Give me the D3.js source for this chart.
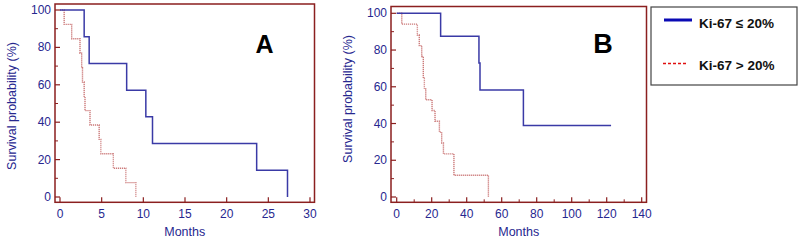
<!DOCTYPE html>
<html lang="en">
<head>
<meta charset="UTF-8">
<title>Kaplan-Meier Ki-67</title>
<script src="https://d3js.org/d3.v7.min.js"></script>
<style>
    body { margin: 0; background: #fff; }
    svg { display: block; font-family: Arial, "Liberation Sans", sans-serif; }
    .tick-label { font-size: 12px; fill: #27278f; }
    .axis-title { font-size: 12.5px; fill: #27278f; }
    .panel-letter { font-weight: bold; fill: #000; }
    .legend-text { font-size: 13.5px; font-weight: bold; fill: #111; }
</style>
</head>
<body>
<script>
    // Panel A (months)
    var aLowTimes = [2.9, 3.5, 8.0, 10.3, 11.1, 23.6, 27.3];
    var aLowSurv = [85.7, 71.4, 57.1, 42.9, 28.6, 14.3, 0];
    var aHighTimes = [0.5, 1.4, 2.4, 2.6, 2.7, 2.9, 3.0, 3.6, 4.7, 4.9, 6.4, 7.9, 9.1];
    var aHighSurv = [92.3, 84.6, 76.9, 69.2, 61.5, 53.8, 46.2, 38.5, 30.8, 23.1, 15.4, 7.7, 0];
    var aXTicks = [0, 5, 10, 15, 20, 25, 30];

    // Panel B (months)
    var bLowTimes = [25.1, 47.0, 47.6, 72.4, 122.5];
    var bLowSurv = [87.5, 72.9, 58.3, 38.9, 38.9];
    var bHighTimes = [2.9, 11.8, 12.9, 14.3, 15.2, 15.8, 16.6, 20.2, 21.9, 24.4, 25.7, 26.7, 32.7, 52.4];
    var bHighSurv = [94.1, 88.2, 82.4, 76.5, 64.7, 58.8, 52.9, 47.1, 41.2, 35.3, 29.4, 23.5, 11.8, 0];
    var bXTicks = [0, 20, 40, 60, 80, 100, 120, 140];

    var yTicks = [0, 20, 40, 60, 80, 100];
    var legendLabels = ["Ki-67 \u2264 20%", "Ki-67 > 20%"];

    var frameColor = "#8b1f1f";
    var blue = "#3a3aa6";
    var red = "#cc7a7a";

    var svg = d3.select("body").append("svg")
        .attr("width", 800)
        .attr("height", 242);

    function drawPanel(p) {
        var g = svg.append("g");
        var x = d3.scaleLinear().domain([0, p.xMax]).range(p.xRange);
        var y = d3.scaleLinear().domain([0, 100]).range(p.yRange);

        // frame
        g.append("rect")
            .attr("x", p.frame[0]).attr("y", p.frame[1])
            .attr("width", p.frame[2] - p.frame[0])
            .attr("height", p.frame[3] - p.frame[1])
            .attr("fill", "none")
            .attr("stroke", frameColor)
            .attr("stroke-width", 1.5);

        // y ticks (inward)
        var yMinor = d3.range(10, 100, 20);
        g.selectAll(".ymaj").data(yTicks).enter().append("line")
            .attr("x1", p.frame[0]).attr("x2", p.frame[0] + 5)
            .attr("y1", d => y(d)).attr("y2", d => y(d))
            .attr("stroke", frameColor).attr("stroke-width", 1.2);
        g.selectAll(".ymin").data(yMinor).enter().append("line")
            .attr("x1", p.frame[0]).attr("x2", p.frame[0] + 3)
            .attr("y1", d => y(d)).attr("y2", d => y(d))
            .attr("stroke", frameColor).attr("stroke-width", 1);
        g.selectAll(".ylab").data(yTicks).enter().append("text")
            .attr("class", "tick-label")
            .attr("x", p.frame[0] - 4)
            .attr("y", d => y(d) + 4)
            .attr("text-anchor", "end")
            .text(d => d);

        // x ticks (inward)
        g.selectAll(".xmaj").data(p.xTicks).enter().append("line")
            .attr("x1", d => x(d)).attr("x2", d => x(d))
            .attr("y1", p.frame[3]).attr("y2", p.frame[3] - 5)
            .attr("stroke", frameColor).attr("stroke-width", 1.2);
        if (p.xMinor) {
            g.selectAll(".xmin").data(p.xMinor).enter().append("line")
                .attr("x1", d => x(d)).attr("x2", d => x(d))
                .attr("y1", p.frame[3]).attr("y2", p.frame[3] - 3)
                .attr("stroke", frameColor).attr("stroke-width", 1);
        }
        g.selectAll(".xlab").data(p.xTicks).enter().append("text")
            .attr("class", "tick-label")
            .attr("x", d => x(d))
            .attr("y", p.frame[3] + 16)
            .attr("text-anchor", "middle")
            .text(d => d);

        // titles
        g.append("text").attr("class", "axis-title")
            .attr("x", (p.frame[0] + p.frame[2]) / 2)
            .attr("y", 236)
            .attr("text-anchor", "middle")
            .text("Months");
        g.append("text").attr("class", "axis-title")
            .attr("transform", "translate(" + (p.frame[0] - 39) + "," + p.titleY + ") rotate(-90)")
            .attr("text-anchor", "middle")
            .text("Survival probability (%)");

        g.append("text").attr("class", "panel-letter")
            .attr("x", p.letterX).attr("y", p.letterY)
            .attr("text-anchor", "middle")
            .style("font-size", p.letterSize + "px")
            .text(p.letter);

        var line = d3.line()
            .x(d => x(d[0]))
            .y(d => y(d[1]))
            .curve(d3.curveStepAfter);

        var highPts = [[0, 100]].concat(p.highT.map((t, i) => [t, p.highS[i]]));
        var lowPts = [[0, 100]].concat(p.lowT.map((t, i) => [t, p.lowS[i]]));

        g.append("path").datum(highPts)
            .attr("d", line)
            .attr("fill", "none")
            .attr("stroke", red)
            .attr("stroke-width", 1.4)
            .attr("stroke-dasharray", "1.2,0.8");
        g.append("path").datum(lowPts)
            .attr("d", line)
            .attr("fill", "none")
            .attr("stroke", blue)
            .attr("stroke-width", 1.5);
    }

    drawPanel({
        frame: [55, 4, 314.5, 202.3],
        xMax: 30, xRange: [60, 310], yRange: [197, 10],
        xTicks: aXTicks, xMinor: null,
        lowT: aLowTimes, lowS: aLowSurv, highT: aHighTimes, highS: aHighSurv,
        letter: "A", letterX: 264.5, letterY: 53, letterSize: 25, titleY: 106
    });

    drawPanel({
        frame: [391, 6.5, 646.5, 202.3],
        xMax: 140, xRange: [396.7, 641.7], yRange: [197, 13.3],
        xTicks: bXTicks, xMinor: d3.range(10, 140, 20),
        lowT: bLowTimes, lowS: bLowSurv, highT: bHighTimes, highS: bHighSurv,
        letter: "B", letterX: 603, letterY: 52.5, letterSize: 27, titleY: 99
    });

    // legend
    var lg = svg.append("g");
    lg.append("rect")
        .attr("x", 651).attr("y", 7)
        .attr("width", 146).attr("height", 78)
        .attr("fill", "#fff")
        .attr("stroke", "#444")
        .attr("stroke-width", 1.2);
    lg.append("line")
        .attr("x1", 664).attr("x2", 692).attr("y1", 20).attr("y2", 20)
        .attr("stroke", "#0a0ab4").attr("stroke-width", 3);
    lg.append("line")
        .attr("x1", 663).attr("x2", 687).attr("y1", 63.5).attr("y2", 63.5)
        .attr("stroke", "#e01010").attr("stroke-width", 1.5)
        .attr("stroke-dasharray", "3,2");
    lg.selectAll(".legend-text").data(legendLabels).enter().append("text")
        .attr("class", "legend-text")
        .attr("x", 699)
        .attr("y", (d, i) => i === 0 ? 28 : 70)
        .text(d => d);
</script>
</body>
</html>
